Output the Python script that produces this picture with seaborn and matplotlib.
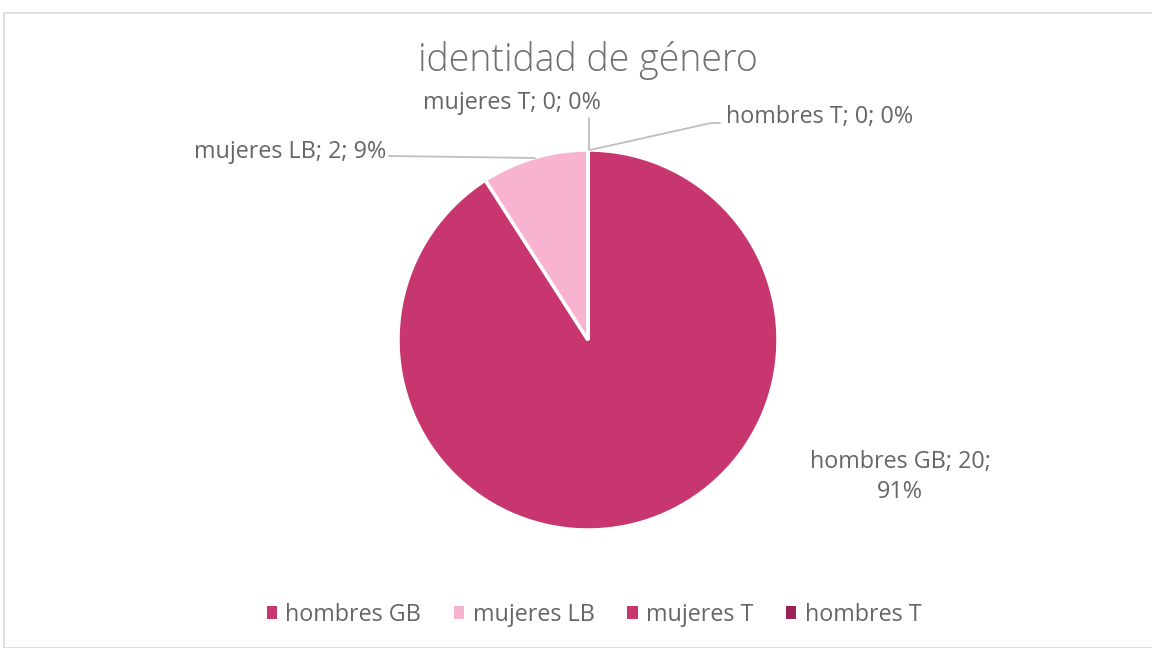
import numpy as np
import pandas as pd
import seaborn as sns
import matplotlib.pyplot as plt
from matplotlib.patches import Rectangle

# data
categories = ["hombres GB", "mujeres LB", "mujeres T", "hombres T"]
counts = [20, 2, 0, 0]
percents = ["91%", "9%", "0%", "0%"]
colors = ["#C8366F", "#F8B3D0", "#C8366F", "#9A2257"]

sns.set_theme(style="white")
plt.rcParams["font.family"] = ["Open Sans", "DejaVu Sans"]
text_col = "#666666"
line_col = "#BFBFBF"

W, H = 1152, 648
cx, cy, r = 588, 340, 190  # pie centre/radius in pixels


def px(x, y):
    # pixel position (from top-left) -> data units around the pie
    return (x - cx) / r, (cy - y) / r


fig = plt.figure(figsize=(W / 100, H / 100), dpi=100)
ax = fig.add_axes([0, 0, 1, 1])
wedges, _ = ax.pie(counts, colors=colors, startangle=90, counterclock=False,
                   radius=1, wedgeprops=dict(edgecolor="white", linewidth=2.5))
ax.set_aspect("auto")
ax.set_xlim((0 - cx) / r, (W - cx) / r)
ax.set_ylim((cy - H) / r, cy / r)
ax.axis("off")

# chart border
fig.patches.append(Rectangle((4 / W, 0), 1.2, (H - 13) / H, transform=fig.transFigure,
                             fill=False, edgecolor="#D9D9D9", linewidth=1.2))

ax.text(*px(588, 60), "identidad de género", ha="center", va="center",
        fontsize=27, color="#707070", fontweight="light")

lbl = [f"{c}; {n}; {p}" for c, n, p in zip(categories, counts, percents)]
fs = 16.8

ax.text(*px(900, 477), "hombres GB; 20;\n91%", ha="center", va="center",
        fontsize=fs, color=text_col, linespacing=1.35)

ax.text(*px(386, 152), lbl[1], ha="right", va="center", fontsize=fs, color=text_col)
ax.plot(*zip(px(389, 156), px(535, 158)), color=line_col, lw=1.3)

ax.text(*px(512, 103), lbl[2], ha="center", va="center", fontsize=fs, color=text_col)
ax.plot(*zip(px(589, 118), px(589, 150)), color=line_col, lw=1.3)

ax.text(*px(726, 117), lbl[3], ha="left", va="center", fontsize=fs, color=text_col)
ax.plot(*zip(px(720, 123), px(711, 123), px(590, 150)), color=line_col, lw=1.3)

leg = ax.legend(wedges, categories, loc="center", bbox_to_anchor=(594 / W, 1 - 615 / H),
                bbox_transform=fig.transFigure, ncol=4, frameon=False, fontsize=fs,
                handlelength=0.45, handleheight=0.45, handletextpad=0.35, columnspacing=1.4)
for t in leg.get_texts():
    t.set_color(text_col)
for h in leg.legend_handles:
    h.set_edgecolor("none")

fig.savefig("out.png", dpi=100)
